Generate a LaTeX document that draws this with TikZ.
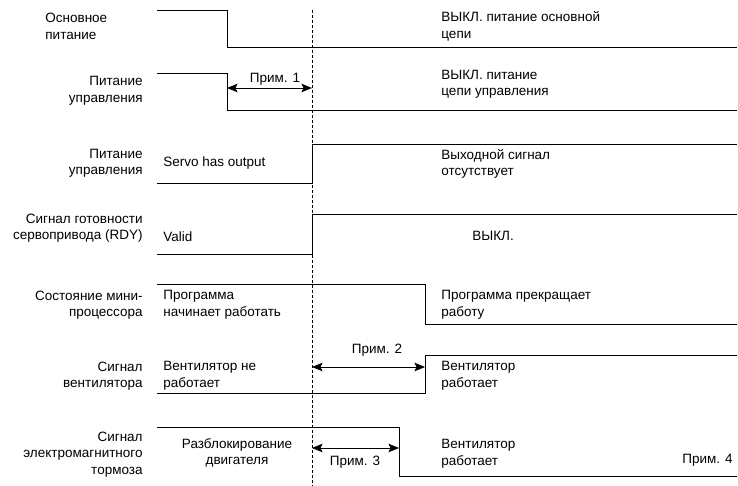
\documentclass[tikz,border=0pt]{standalone}
\usepackage{fontspec}
\setmainfont{Liberation Sans}
\usetikzlibrary{arrows.meta}

\begin{document}
\begin{tikzpicture}[x=1pt, y=-1pt, line width=0.8pt, <->, >={Stealth[length=10.5pt,width=8.5pt,inset=2pt]},
  every node/.style={inner sep=0pt, font=\fontsize{13.5}{16.5}\selectfont},
  name node/.style={align=right, anchor=east},
  state node/.style={align=left, anchor=west},
  wave/.style={-, line width=0.8pt},
  mark line/.style={-, line width=0.6pt, dash pattern=on 3pt off 2pt}]
\useasboundingbox (0,0) rectangle (738,486);

\node[state node] (1) at (45,26.5) {Основное\\питание};
\node[name node] (2) at (143,91) {Питание\\управления};
\node[name node] (3) at (143,163.5) {Питание\\управления};
\node[name node] (4) at (143,228) {Сигнал готовности\\сервопривода (RDY)};
\node[name node] (5) at (143,305) {Состояние мини-\\процессора};
\node[name node] (6) at (143,376) {Сигнал\\вентилятора};
\node[name node] (7) at (143,454.5) {Сигнал\\электромагнитного\\тормоза};

\node[state node] (1b) at (441,26.5) {ВЫКЛ. питание основной\\цепи};
\node[state node] (2b) at (441,84.5) {ВЫКЛ. питание\\цепи управления};
\node[state node] (3a) at (163,163) {Servo has output};
\node[state node] (3b) at (441,164) {Выходной сигнал\\отсутствует};
\node[state node] (4a) at (163,237) {Valid};
\node[state node] (4b) at (472,236) {ВЫКЛ.};
\node[state node] (5a) at (163,305) {Программа\\начинает работать};
\node[state node] (5b) at (441,305) {Программа прекращает\\работу};
\node[state node] (6a) at (163,376) {Вентилятор не\\работает};
\node[state node] (6b) at (441,376) {Вентилятор\\работает};
\node[align=center] (7a) at (237,453) {Разблокирование\\двигателя};
\node[state node] (7b) at (441,454) {Вентилятор\\работает};

\node (n1) at (275,79) {Прим. 1};
\node (n2) at (377,350) {Прим. 2};
\node (n3) at (355,462) {Прим. 3};
\node[anchor=east] (n4) at (733,460) {Прим. 4};

\draw[mark line] (312,10) -- (312,486);

\draw[wave] (157,10) -- (227,10) -- (227,47) -- (737,47);
\draw[wave] (157,73) -- (227,73) -- (227,110) -- (737,110);
\draw[wave] (157,183) -- (312,183) -- (312,144) -- (737,144);
\draw[wave] (157,254) -- (312,254) -- (312,214) -- (737,214);
\draw[wave] (157,284) -- (425,284) -- (425,324) -- (737,324);
\draw[wave] (157,393) -- (425,393) -- (425,355) -- (737,355);
\draw[wave] (157,427) -- (399,427) -- (399,476) -- (737,476);

\coordinate (a1) at (227,88);
\coordinate (b1) at (312,88);
\coordinate (a2) at (312,367);
\coordinate (b2) at (425,367);
\coordinate (a3) at (312,448);
\coordinate (b3) at (399,448);
\draw (a1) -- (b1);
\draw (a2) -- (b2);
\draw (a3) -- (b3);

\end{tikzpicture}
\end{document}
